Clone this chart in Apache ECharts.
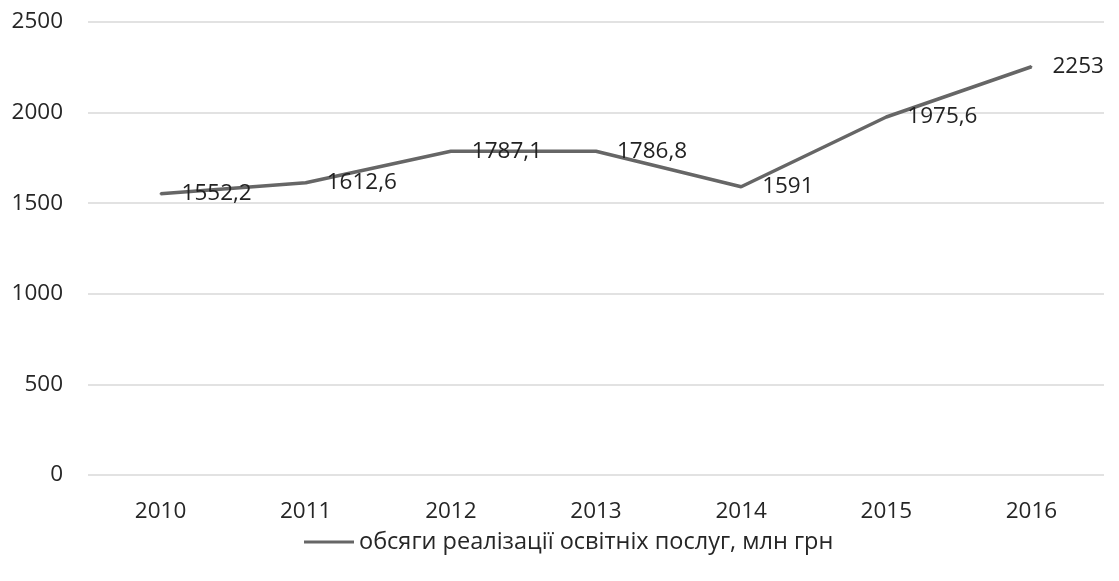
<!DOCTYPE html>
<html>
<head>
<meta charset="utf-8">
<script src="https://cdn.jsdelivr.net/npm/echarts@6/dist/echarts.min.js"></script>
<style>html,body{margin:0;padding:0;background:#fff;}#c{width:1119px;height:581px;}</style>
</head>
<body>
<div id="c"></div>
<script>
const categories = ['2010', '2011', '2012', '2013', '2014', '2015', '2016'];
const values = [1552.2, 1612.6, 1787.1, 1786.8, 1591, 1975.6, 2253];
const seriesName = 'обсяги реалізації освітніх послуг, млн грн';
const yTicks = { min: 0, max: 2500, interval: 500 };

const FONT = '"Open Sans", "Noto Sans", sans-serif';
const chart = echarts.init(document.getElementById('c'), null, { renderer: 'canvas' });
chart.setOption({
  animation: false,
  backgroundColor: '#ffffff',
  grid: { left: 88, right: 15, top: 22, bottom: 106, containLabel: false },
  xAxis: {
    type: 'category',
    data: categories,
    boundaryGap: true,
    axisLine: { show: false },
    axisTick: { show: false },
    axisLabel: { color: '#262626', fontFamily: FONT, fontSize: 22.5, margin: 25 }
  },
  yAxis: {
    type: 'value',
    min: yTicks.min, max: yTicks.max, interval: yTicks.interval,
    axisLine: { show: false },
    axisTick: { show: false },
    splitLine: { lineStyle: { color: '#d9d9d9', width: 1.5 } },
    axisLabel: { color: '#262626', fontFamily: FONT, fontSize: 22.5, margin: 25, formatter: v => String(v) }
  },
  legend: {
    bottom: 22,
    left: 299,
    icon: 'rect',
    itemWidth: 50,
    itemHeight: 3,
    itemGap: 10,
    textStyle: { color: '#262626', fontFamily: FONT, fontSize: 23.5 },
    data: [seriesName]
  },
  series: [{
    name: seriesName,
    type: 'line',
    data: values,
    symbol: 'circle',
    symbolSize: 2,
    lineStyle: { color: '#666666', width: 3.5 },
    itemStyle: { color: '#666666' },
    label: {
      show: true,
      position: 'right',
      distance: 20,
      color: '#222',
      fontFamily: FONT,
      fontSize: 22.5,
      formatter: p => String(p.value).replace('.', ',')
    }
  }]
});
</script>
</body>
</html>
